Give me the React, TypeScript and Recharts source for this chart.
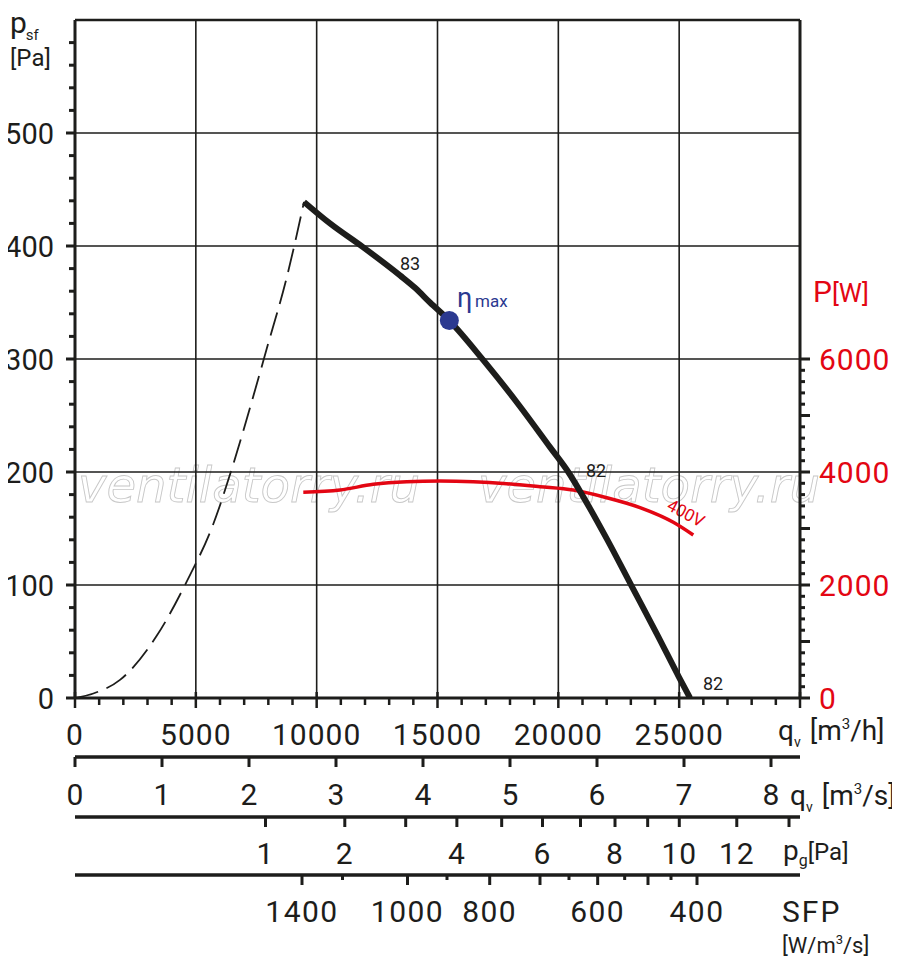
import React from 'react';
import { LineChart, Line, XAxis, YAxis, ReferenceLine, ReferenceDot } from 'recharts';

const INK = '#1d1d1b';
const RED = '#e30613';
const BLUE = '#2b3990';
const FONT = "Roboto, 'DejaVu Sans', sans-serif";

// Fan pressure curve (solid) : q [m3/h] -> p_sf [Pa]
const pressureQ = [9476, 10551, 11917, 13448, 14069, 14690, 15490, 16895, 18414, 19655, 20412, 21033, 22001, 23035, 24070, 24980, 25450];
const pressureP = [439, 420, 399, 374, 363, 350, 334, 299, 258, 222, 200, 178, 141, 99, 57, 19, 0];

// Unstable region (dashed)
const dashedQ = [0, 758, 1862, 3381, 4622, 5723, 6550, 7378, 7933, 8760, 9476];
const dashedP = [0, 4, 16, 55, 103, 154, 207, 267, 309, 372, 439];

// Power curve 400V : q [m3/h] -> P [W]
const powerQ = [9447, 10965, 12343, 13725, 15103, 16481, 17863, 19241, 20619, 22001, 23379, 24757, 25584];
const powerW = [3641, 3681, 3782, 3828, 3841, 3828, 3793, 3740, 3680, 3545, 3370, 3110, 2885];

// Max efficiency point
const etaMaxQ = 15490;
const etaMaxP = 334;

// Axes / grid
const qhGrid = [5000, 10000, 15000, 20000, 25000];
const pGrid = [100, 200, 300, 400, 500];
const qhLabels = [0, 5000, 10000, 15000, 20000, 25000];
const qhTicks = Array.from({ length: 31 }, (_, i) => i * 1000);
const pTicks = Array.from({ length: 30 }, (_, i) => i * 20);
const pLabels = [0, 100, 200, 300, 400, 500];
const powerTicks = Array.from({ length: 31 }, (_, i) => i * 200);
const powerLabels = [0, 2000, 4000, 6000];
const qsTicks = [0, 1, 2, 3, 4, 5, 6, 7, 8];
const pgValues = [1, 2, 3, 4, 5, 6, 7, 8, 9, 10, 12, 14];
const pgTickQ = [7883, 11164, 13684, 15802, 17656, 19345, 20917, 22345, 23697, 25005, 27384, 29545];
const pgShown = [1, 2, 4, 6, 8, 10, 12];
const sfpValues = [1400, 1200, 1000, 900, 800, 700, 650, 600, 550, 500, 450, 400];
const sfpTickQ = [9393, 11069, 13759, 15393, 17160, 19241, 20441, 21628, 22745, 23710, 24662, 25738];
const sfpShown = [1400, 1000, 800, 600, 400];
const sfpLong = [1400, 1000, 800, 700, 600, 500, 400];

const pressureData = pressureQ.map((q, i) => ({ q, p: pressureP[i] }));
const dashedData = dashedQ.map((q, i) => ({ q, p: dashedP[i] }));
const powerData = powerQ.map((q, i) => ({ q, P: powerW[i] }));
// scale anchors for the auxiliary axes (no visible marks)
const qsAnchor = qsTicks.map((q) => ({ q }));
const pgAnchor = pgTickQ.map((q) => ({ q }));
const sfpAnchor = sfpTickQ.map((q) => ({ q }));

const txt = { fontFamily: FONT, fill: INK };

const LeftTick = (props: any) => {
  const { x, y, payload } = props;
  const v = payload.value;
  const major = v % 100 === 0;
  return (
    <g>
      <line x1={x - (major ? 9 : 6)} x2={x} y1={y} y2={y} stroke={INK} strokeWidth={3} />
      {pLabels.includes(v) && (
        <text x={x - 21} y={y + 10.5} textAnchor="end" fontSize={29} {...txt}>
          {v}
        </text>
      )}
    </g>
  );
};

const RightTick = (props: any) => {
  const { x, y, payload } = props;
  const v = payload.value;
  const major = v % 1000 === 0;
  return (
    <g>
      <line x1={x} x2={x + (major ? 10 : 5)} y1={y} y2={y} stroke={INK} strokeWidth={3} />
      {powerLabels.includes(v) && (
        <text x={x + 19} y={y + 10.5} textAnchor="start" fontSize={30} letterSpacing={1} fontFamily={FONT} fill={RED}>
          {v}
        </text>
      )}
    </g>
  );
};

const MainXTick = (props: any) => {
  const { x, y, payload } = props;
  const v = payload.value;
  const major = v % 5000 === 0;
  return (
    <g>
      <line x1={x} x2={x} y1={major ? y - 6 : y} y2={major ? y + 10 : y + 7} stroke={INK} strokeWidth={2.5} />
      {qhLabels.includes(v) && (
        <text x={x} y={y + 47} textAnchor="middle" fontSize={30} letterSpacing={1} {...txt}>
          {v}
        </text>
      )}
    </g>
  );
};

const QsTick = (props: any) => {
  const { x, y, payload } = props;
  return (
    <g>
      <line x1={x} x2={x} y1={y} y2={y + 10} stroke={INK} strokeWidth={3} />
      <text x={x} y={y + 48} textAnchor="middle" fontSize={30} {...txt}>
        {payload.value}
      </text>
    </g>
  );
};

const PgTick = (props: any) => {
  const { x, y, index } = props;
  const v = pgValues[index];
  return (
    <g>
      <line x1={x} x2={x} y1={y} y2={y + 10} stroke={INK} strokeWidth={3} />
      {pgShown.includes(v) && (
        <text x={x} y={y + 47} textAnchor="middle" fontSize={30} letterSpacing={1} {...txt}>
          {v}
        </text>
      )}
    </g>
  );
};

const SfpTick = (props: any) => {
  const { x, y, index } = props;
  const v = sfpValues[index];
  const long = sfpLong.includes(v);
  return (
    <g>
      <line x1={x} x2={x} y1={y} y2={y + (long ? 10 : 5)} stroke={INK} strokeWidth={3} />
      {sfpShown.includes(v) && (
        <text x={x} y={y + 47} textAnchor="middle" fontSize={30} letterSpacing={1.5} {...txt}>
          {v}
        </text>
      )}
    </g>
  );
};

const axisCommon = {
  type: 'number' as const,
  dataKey: 'q',
  allowDataOverflow: true,
  interval: 0 as const,
  tickSize: 0,
  tickMargin: 0,
  tickLine: false,
};

export default function App() {
  return (
    <div style={{ width: 900, height: 970, margin: -8 }}>
      <LineChart width={900} height={970} margin={{ top: 20, right: 0, bottom: 0, left: 0 }} style={{ overflow: 'visible' }}>
        <XAxis
          {...axisCommon}
          xAxisId="a1"
          domain={[0, 30000]}
          ticks={qhTicks}
          height={59}
          axisLine={{ stroke: INK, strokeWidth: 3 }}
          tick={(p: any) => <MainXTick {...p} />}
        />
        <XAxis
          {...axisCommon}
          xAxisId="b2"
          domain={[0, 30000 / 3600]}
          ticks={qsTicks}
          height={60}
          axisLine={{ stroke: INK, strokeWidth: 3.5 }}
          tick={(p: any) => <QsTick {...p} />}
        />
        <XAxis
          {...axisCommon}
          xAxisId="c3"
          domain={[0, 30000]}
          ticks={pgTickQ}
          height={58}
          axisLine={{ stroke: INK, strokeWidth: 3.5 }}
          tick={(p: any) => <PgTick {...p} />}
        />
        <XAxis
          {...axisCommon}
          xAxisId="d4"
          domain={[0, 30000]}
          ticks={sfpTickQ}
          height={95}
          axisLine={{ stroke: INK, strokeWidth: 3.5 }}
          tick={(p: any) => <SfpTick {...p} />}
        />
        <YAxis
          yAxisId="p"
          orientation="left"
          type="number"
          width={75}
          domain={[0, 600]}
          allowDataOverflow
          ticks={pTicks}
          interval={0}
          tickSize={0}
          tickMargin={0}
          tickLine={false}
          axisLine={{ stroke: INK, strokeWidth: 3 }}
          tick={(p: any) => <LeftTick {...p} />}
        />
        <YAxis
          yAxisId="w"
          orientation="right"
          type="number"
          width={100}
          domain={[0, 12000]}
          allowDataOverflow
          ticks={powerTicks}
          interval={0}
          tickSize={0}
          tickMargin={0}
          tickLine={false}
          axisLine={{ stroke: INK, strokeWidth: 3 }}
          tick={(p: any) => <RightTick {...p} />}
        />

        {qhGrid.map((v) => (
          <ReferenceLine key={'gx' + v} xAxisId="a1" yAxisId="p" x={v} stroke={INK} strokeWidth={1.6} />
        ))}
        {pGrid.map((v) => (
          <ReferenceLine key={'gy' + v} xAxisId="a1" yAxisId="p" y={v} stroke={INK} strokeWidth={1.6} />
        ))}
        <ReferenceLine xAxisId="a1" yAxisId="p" y={600} stroke={INK} strokeWidth={2.5} />

        <Line xAxisId="b2" yAxisId="p" data={qsAnchor} dataKey="none" stroke="none" dot={false} activeDot={false} legendType="none" isAnimationActive={false} />
        <Line xAxisId="c3" yAxisId="p" data={pgAnchor} dataKey="none" stroke="none" dot={false} activeDot={false} legendType="none" isAnimationActive={false} />
        <Line xAxisId="d4" yAxisId="p" data={sfpAnchor} dataKey="none" stroke="none" dot={false} activeDot={false} legendType="none" isAnimationActive={false} />

        <Line
          xAxisId="a1"
          yAxisId="p"
          data={dashedData}
          dataKey="p"
          type="monotone"
          stroke={INK}
          strokeWidth={1.8}
          strokeDasharray="24 9"
          dot={false}
          isAnimationActive={false}
        />
        <Line
          xAxisId="a1"
          yAxisId="w"
          data={powerData}
          dataKey="P"
          type="monotone"
          stroke={RED}
          strokeWidth={3.5}
          dot={false}
          isAnimationActive={false}
        />
        <Line
          xAxisId="a1"
          yAxisId="p"
          data={pressureData}
          dataKey="p"
          type="monotone"
          stroke={INK}
          strokeWidth={6}
          strokeLinejoin="round"
          dot={false}
          isAnimationActive={false}
        />
        <ReferenceDot xAxisId="a1" yAxisId="p" x={etaMaxQ} y={etaMaxP} r={9.5} fill={BLUE} stroke="none" />

        {/* watermark */}
        <text x={78} y={502} fontSize={48} fontStyle="italic" fontFamily="'DejaVu Sans', sans-serif" textLength={342} lengthAdjust="spacingAndGlyphs" fill="rgba(255,255,255,0.55)" stroke="#c8c8c8" strokeWidth={0.9}>
          ventilatorry.ru
        </text>
        <text x={478} y={502} fontSize={48} fontStyle="italic" fontFamily="'DejaVu Sans', sans-serif" textLength={342} lengthAdjust="spacingAndGlyphs" fill="rgba(255,255,255,0.55)" stroke="#c8c8c8" strokeWidth={0.9}>
          ventilatorry.ru
        </text>

        {/* curve annotations */}
        <text x={400} y={270} fontSize={18} {...txt}>83</text>
        <text x={586} y={477} fontSize={18} {...txt}>82</text>
        <text x={703} y={690} fontSize={18} {...txt}>82</text>
        <text x={686} y={513} fontSize={17} fontFamily={FONT} fill={RED} textAnchor="middle" dominantBaseline="central" transform="rotate(28 686 513)">400V</text>
        <text x={457} y={307} fontSize={27} fontFamily={FONT} fill={BLUE}>η</text>
        <text x={475} y={307} fontSize={17} fontFamily={FONT} fill={BLUE}>max</text>

        {/* axis titles */}
        <text x={10} y={33} fontSize={30} {...txt}>
          p<tspan fontSize={15} dx={-1} dy={7}>sf</tspan>
        </text>
        <text x={10} y={66} fontSize={24} {...txt}>[Pa]</text>
        <text x={813} y={302} fontSize={30} fontFamily={FONT} fill={RED}>
          P<tspan fontSize={26}>[W]</tspan>
        </text>
        <text x={778} y={740} fontSize={28} {...txt}>
          q<tspan fontSize={14} dy={7}>v</tspan>
          <tspan dx={9} dy={-7}>[m</tspan>
          <tspan fontSize={15} dy={-11}>3</tspan>
          <tspan dy={11}>/h]</tspan>
        </text>
        <text x={790} y={805} fontSize={28} {...txt}>
          q<tspan fontSize={14} dy={7}>v</tspan>
          <tspan dx={9} dy={-7}>[m</tspan>
          <tspan fontSize={15} dy={-11}>3</tspan>
          <tspan dy={11}>/s]</tspan>
        </text>
        <text x={783} y={860} fontSize={28} {...txt}>
          p<tspan fontSize={16} dy={6}>g</tspan>
          <tspan fontSize={24} dy={-6}>[Pa]</tspan>
        </text>
        <text x={782} y={922} fontSize={30} letterSpacing={2} {...txt}>SFP</text>
        <text x={782} y={953} fontSize={22} {...txt}>
          [W/m<tspan fontSize={13} dy={-9}>3</tspan>
          <tspan dy={9}>/s]</tspan>
        </text>
      </LineChart>
    </div>
  );
}
